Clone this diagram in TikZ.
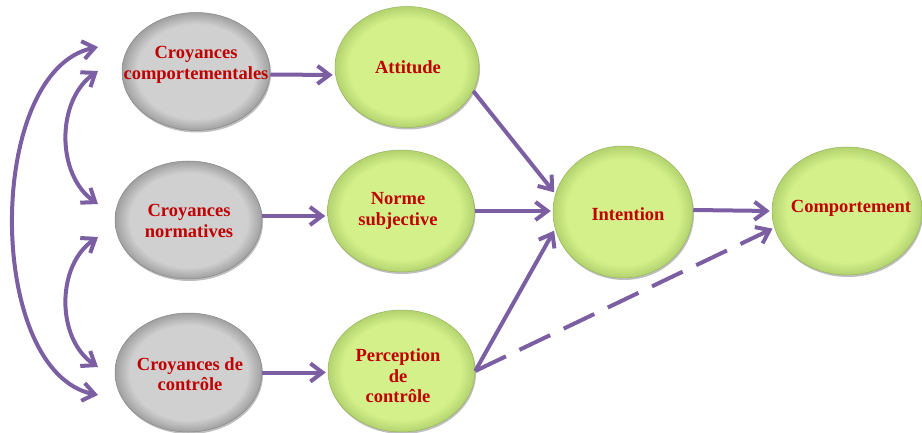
\documentclass[tikz,border=0pt]{standalone}
\usepackage{fontspec}
\setmainfont{Liberation Serif}
\usetikzlibrary{arrows.meta,shadows,calc,shapes.geometric}
\definecolor{arrowpurple}{HTML}{7C5EA3}
\definecolor{txtred}{HTML}{C00000}
\definecolor{grayin}{HTML}{D0D0D0}
\definecolor{grayout}{HTML}{A0A0A0}
\definecolor{greenin}{HTML}{D4F08A}
\definecolor{greenout}{HTML}{B3D36F}
\pgfdeclareradialshading{grayball}{\pgfpoint{0bp}{0bp}}{color(0bp)=(grayin); color(20bp)=(grayin); color(25bp)=(grayout); color(50bp)=(grayout)}
\pgfdeclareradialshading{greenball}{\pgfpoint{0bp}{0bp}}{color(0bp)=(greenin); color(20bp)=(greenin); color(25bp)=(greenout); color(50bp)=(greenout)}
\tikzset{
  bubble/.style={ellipse, inner sep=0pt, draw=#1, line width=0.5pt,
    drop shadow={shadow xshift=1pt, shadow yshift=-2pt, opacity=0.25, fill=black}},
  graybubble/.style={bubble=grayout!85!black, shading=grayball},
  greenbubble/.style={bubble=greenout!85!black, shading=greenball},
  lbl/.style={text=txtred, font=\fontsize{18.5}{20.5}\selectfont\bfseries, align=center, inner sep=0pt},
  conn/.style={draw=arrowpurple, line width=4pt, -{Straight Barb[length=12pt,width=18pt]}, shorten >=2pt},
  bconn/.style={draw=arrowpurple, line width=4pt, {Straight Barb[length=12pt,width=18pt]}-{Straight Barb[length=12pt,width=18pt]}},
  dashconn/.style={conn, dash pattern=on 34pt off 15pt}
}
\begin{document}
\begin{tikzpicture}[x=1pt, y=-1pt]
\useasboundingbox (0,0) rectangle (922,433);
% gray belief ellipses
\node[graybubble, minimum width=148pt, minimum height=118pt] (g1) at (196,71.5) {};
\node[graybubble, minimum width=147pt, minimum height=118pt] (g2) at (188.5,220) {};
\node[graybubble, minimum width=147pt, minimum height=119pt] (g3) at (188.5,372.5) {};
% green ellipses
\node[greenbubble, minimum width=144pt, minimum height=121pt] (a) at (407,67) {};
\node[greenbubble, minimum width=147pt, minimum height=122pt] (n) at (401,211) {};
\node[greenbubble, minimum width=147pt, minimum height=122pt] (p) at (401.5,371) {};
\node[greenbubble, minimum width=140pt, minimum height=132pt] (i) at (623,212) {};
\node[greenbubble, minimum width=150pt, minimum height=128pt] (c) at (847,211) {};
% labels
\node[lbl] (g1t) at (196,65) {Croyances\\comportementales};
\node[lbl] (g2t) at (189,221) {Croyances\\normatives};
\node[lbl] (g3t) at (190,374) {Croyances de\\contrôle};
\node[lbl] (at) at (408,67) {Attitude};
\node[lbl] (nt) at (398,211) {Norme\\subjective};
\node[lbl] (pt) at (398,376) {Perception\\de\\contrôle};
\node[lbl] (it) at (628,214) {Intention};
\node[lbl] (ct) at (851,208) {Comportement};
% connectors
\draw[conn] ([yshift=-3pt]g1.east) -- ([yshift=-8pt]a.west);
\draw[conn] ([yshift=4pt]g2.east) -- ([yshift=-5pt]n.west);
\draw[conn] (g3.east) -- (g3.east -| p.west);
\draw[conn] (a.-20) -- (i.165);
\draw[conn] (n.east) -- (n.east -| i.west);
\draw[conn] (p.east) -- (i.194);
\draw[conn] ([yshift=2pt]i.east) -- (c.west);
\draw[dashconn] (p.east) -- (c.193);
% left curved double arrows
\coordinate (t1) at (98,47);
\coordinate (t2) at (98,71);
\coordinate (t3) at (98,204);
\coordinate (t4) at (98,237);
\coordinate (t5) at (98,367);
\coordinate (t6) at (98,395);
\draw[bconn] (t1) .. controls (-15,70) and (-15,372) .. (t6);
\draw[bconn] (t2) .. controls (56,100) and (56,175) .. (t3);
\draw[bconn] (t4) .. controls (56,265) and (56,339) .. (t5);
\end{tikzpicture}
\end{document}
